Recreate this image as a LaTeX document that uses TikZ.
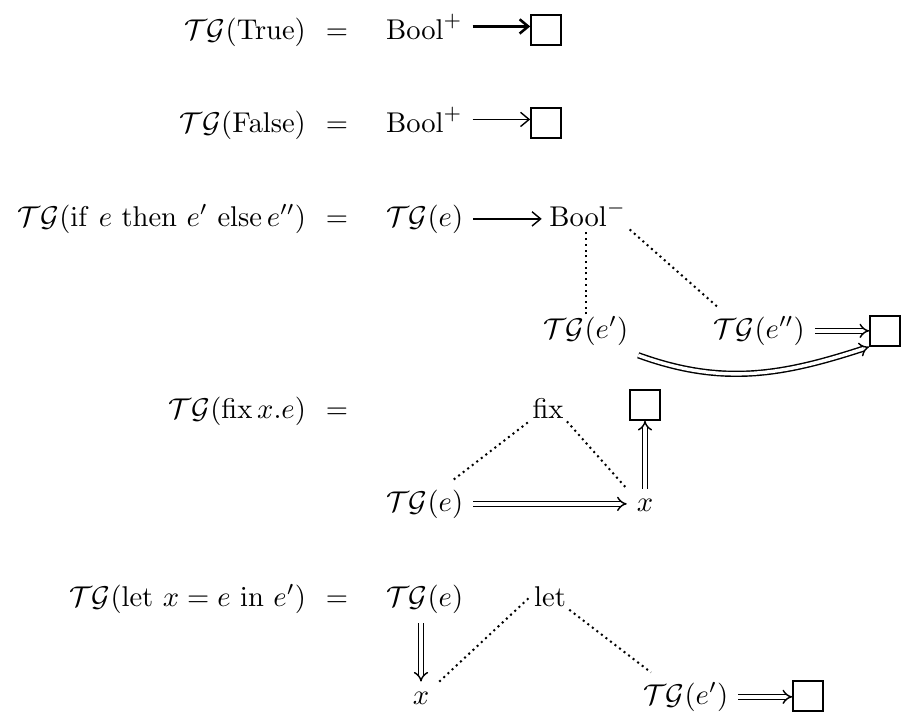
\documentclass[tikz,border=0pt]{standalone}
\usepackage{amsmath,amssymb}
\usepackage{tikz}
\usetikzlibrary{arrows.meta, calc}
\newcommand{\TG}{\mathcal{T}\mathcal{G}}

\begin{document}
\begin{tikzpicture}[x=0.35pt, y=-0.35pt,
  lhs/.style={anchor=base east},
  rhs/.style={anchor=base west},
  eqsign/.style={anchor=base},
  kw/.style={anchor=base, inner sep=1pt},
  sq/.style={draw, line width=0.55pt, minimum size=10.5pt, inner sep=0pt},
  arr/.style={-{Straight Barb[length=3pt, width=5pt]}, line width=0.5pt},
  dbl/.style={double, double distance=1.2pt, line width=0.5pt, -{Implies}},
  dots/.style={dash pattern=on 0.7pt off 1.3pt, line width=0.7pt}]
\useasboundingbox (0,0) rectangle (901,718);

% True / False
\node[lhs] (lT) at (316,39) {$\TG(\mathrm{True})$};
\node[eqsign] (qT) at (337,39) {$=$};
\node[rhs] (bT) at (376,39) {$\mathrm{Bool}^{+}$};
\node[sq] (sT) at (546,30) {};
\draw[arr, line width=0.9pt] (bT.east) -- (bT.east -| sT.west);

\node[lhs] (lF) at (316,132) {$\TG(\mathrm{False})$};
\node[eqsign] (qF) at (337,132) {$=$};
\node[rhs] (bF) at (376,132) {$\mathrm{Bool}^{+}$};
\node[sq] (sF) at (546,123) {};
\draw[arr] (bF.east) -- (bF.east -| sF.west);

% if
\node[lhs] (lI) at (316,226) {$\TG(\mathrm{if}\ e\ \mathrm{then}\ e'\ \mathrm{else}\,e'')$};
\node[eqsign] (qI) at (337,226) {$=$};
\node[rhs] (tI) at (376,226) {$\TG(e)$};
\node[kw, anchor=base west] (bI) at (546,226) {$\mathrm{Bool}^{-}$};
\node[rhs] (tI1) at (533,338) {$\TG(e')$};
\node[rhs] (tI2) at (703,338) {$\TG(e'')$};
\node[sq] (sI) at (885,331) {};
\draw[arr, shorten >=1.5pt] (tI.east) -- (tI.east -| bI.west);
\draw[dots] ($(tI1.north)+(0,8)$) -- (tI1.north |- bI.south);
\draw[dots] (bI.south east) -- ($(tI2.north west)+(14,0)$);
\draw[dbl] (tI2.east) -- (tI2.east -| sI.west);
\draw[dbl] (tI1.south east) to[out=-20, in=198] (sI.south west);

% fix
\node[lhs] (lX) at (316,418) {$\TG(\mathrm{fix}\,x.e)$};
\node[eqsign] (qX) at (337,418) {$=$};
\node[kw] (fx) at (548,418) {fix};
\node[sq] (sX) at (645,405) {};
\node[rhs] (tX) at (376,511) {$\TG(e)$};
\node[eqsign] (xX) at (645,511) {$x$};
\draw[dots] ($(tX.north)!0.6!(tX.north east)$) -- (fx.south west);
\draw[dots] (fx.south east) -- (xX.north west);
\draw[dbl] (tX.east) -- (tX.east -| xX.west);
\draw[dbl] (xX.north) -- (xX.north |- sX.south);

% let
\node[lhs] (lL) at (316,606) {$\TG(\mathrm{let}\ x=e\ \mathrm{in}\ e')$};
\node[eqsign] (qL) at (337,606) {$=$};
\node[rhs] (tL) at (376,606) {$\TG(e)$};
\node[kw] (lt) at (550,606) {let};
\node[eqsign] (xL) at (421,704) {$x$};
\node[rhs] (tL1) at (633,704) {$\TG(e')$};
\node[sq] (sL) at (808,696) {};
\draw[dbl] (xL.north |- tL.south) -- (xL.north);
\draw[dots] (xL.north east) -- (lt.west);
\draw[dots] (lt.south east) -- ($(tL1.north west)+(18,0)$);
\draw[dbl] (tL1.east) -- (tL1.east -| sL.west);
\end{tikzpicture}
\end{document}
